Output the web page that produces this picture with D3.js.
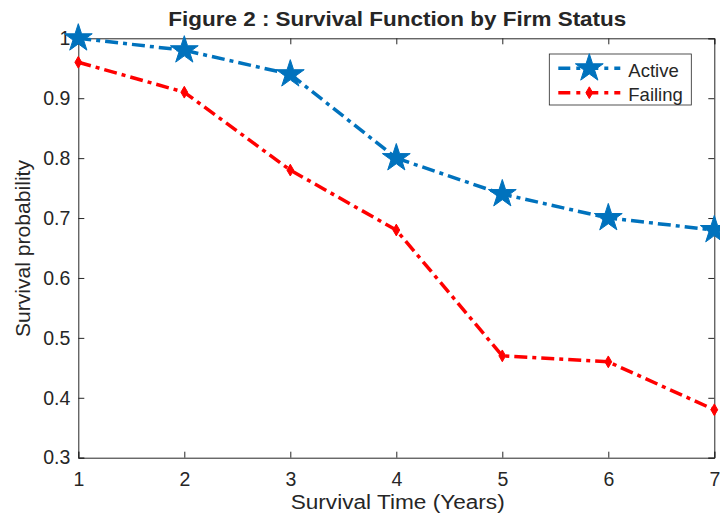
<!DOCTYPE html>
<html>
<head>
<meta charset="utf-8">
<script src="https://cdn.jsdelivr.net/npm/d3@7"></script>
<style>
  body { margin: 0; background: #fff; }
  text { font-family: "Liberation Sans", Arial, sans-serif; fill: #262626; }
</style>
</head>
<body>
<div id="chart"></div>
<script>
// donnees
var years = [1, 2, 3, 4, 5, 6, 7];
var active = [1.00, 0.98, 0.94, 0.80, 0.74, 0.70, 0.68];
var failing = [0.96, 0.91, 0.78, 0.68, 0.47, 0.46, 0.38];
var xTicks = [1, 2, 3, 4, 5, 6, 7];
var yTicks = [0.3, 0.4, 0.5, 0.6, 0.7, 0.8, 0.9, 1];

var W = 720, H = 516;
var pos = {"left": 78.3, "top": 38.3, "right": 714.3, "bottom": 457.7};

var svg = d3.select("#chart").append("svg")
    .attr("width", W)
    .attr("height", H);

var x = d3.scaleLinear().domain([1, 7]).range([pos.left, pos.right]);
var y = d3.scaleLinear().domain([0.3, 1]).range([pos.bottom, pos.top]);

var axisColor = "#262626";

// axes (box)
var axB = svg.append("g").attr("transform", "translate(0," + pos.bottom + ")")
    .call(d3.axisBottom(x).tickValues(xTicks).tickSize(-6).tickPadding(14).tickFormat(d3.format("d")));
var axT = svg.append("g").attr("transform", "translate(0," + pos.top + ")")
    .call(d3.axisTop(x).tickValues(xTicks).tickSize(-6).tickFormat(""));
var axL = svg.append("g").attr("transform", "translate(" + pos.left + ",0)")
    .call(d3.axisLeft(y).tickValues(yTicks).tickSize(-6).tickPadding(8).tickFormat(function(d){ return d == 1 ? "1" : d3.format(".1f")(d); }));
var axR = svg.append("g").attr("transform", "translate(" + pos.right + ",0)")
    .call(d3.axisRight(y).tickValues(yTicks).tickSize(-6).tickFormat(""));

[axB, axT, axL, axR].forEach(function(a){
    a.select(".domain").attr("stroke", axisColor).attr("stroke-width", 1);
    a.selectAll(".tick line").attr("stroke", axisColor).attr("stroke-width", 1);
    a.selectAll(".tick text").style("font-size", "19.5px").attr("fill", axisColor);
});

// courbes
var line = d3.line()
    .x(function(d){ return x(d[0]); })
    .y(function(d){ return y(d[1]); });

var series = [
    {"name": "Active", "values": active, "color": "#0072BD", "marker": "star"},
    {"name": "Failing", "values": failing, "color": "#FF0000", "marker": "diamond"}
];

var starPath = d3.symbol().type(d3.symbolStar).size(240);
var diamondPath = d3.symbol().type(d3.symbolDiamond).size(40);

series.forEach(function(s){
    var pts = years.map(function(yr, i){ return [yr, s.values[i]]; });
    svg.append("path")
        .datum(pts)
        .attr("d", line)
        .attr("fill", "none")
        .attr("stroke", s.color)
        .attr("stroke-width", 3.5)
        .attr("stroke-dasharray", "13,5,4,5");
    svg.selectAll(".m-" + s.name)
        .data(pts)
        .enter()
        .append("path")
        .attr("class", "m-" + s.name)
        .attr("transform", function(d){ return "translate(" + x(d[0]) + "," + y(d[1]) + ")"; })
        .attr("d", s.marker == "star" ? starPath : diamondPath)
        .attr("fill", s.color)
        .attr("stroke", s.color)
        .attr("stroke-width", 1);
});

// legende
var leg = {"x": 549.3, "y": 54, "width": 142, "height": 51};
svg.append("rect")
    .attr("x", leg.x).attr("y", leg.y)
    .attr("width", leg.width).attr("height", leg.height)
    .attr("fill", "#fff")
    .attr("stroke", axisColor)
    .attr("stroke-width", 0.8);

series.forEach(function(s, i){
    var ly = leg.y + 14.3 + i * 24.4;
    svg.append("line")
        .attr("x1", leg.x + 9).attr("x2", leg.x + 71)
        .attr("y1", ly).attr("y2", ly)
        .attr("stroke", s.color)
        .attr("stroke-width", 3.5)
        .attr("stroke-dasharray", "12,6,4,6");
    svg.append("path")
        .attr("transform", "translate(" + (leg.x + 40) + "," + ly + ")")
        .attr("d", s.marker == "star" ? starPath : diamondPath)
        .attr("fill", s.color)
        .attr("stroke", s.color);
    svg.append("text")
        .attr("x", leg.x + 79).attr("y", ly + 8.5)
        .style("font-size", "18.5px")
        .text(s.name);
});

// titres
svg.append("text")
    .attr("x", 168.3).attr("y", 26)
    .attr("textLength", 458)
    .attr("lengthAdjust", "spacingAndGlyphs")
    .style("font-size", "21px")
    .style("font-weight", "bold")
    .attr("fill", "#000")
    .text("Figure 2 : Survival Function by Firm Status");

svg.append("text")
    .attr("x", 290.7).attr("y", 509)
    .attr("textLength", 214)
    .attr("lengthAdjust", "spacingAndGlyphs")
    .style("font-size", "20px")
    .text("Survival Time (Years)");

svg.append("text")
    .attr("transform", "translate(30," + (248.5 + 88.5) + ") rotate(-90)")
    .attr("textLength", 177)
    .attr("lengthAdjust", "spacingAndGlyphs")
    .style("font-size", "20px")
    .text("Survival probability");
</script>
</body>
</html>
